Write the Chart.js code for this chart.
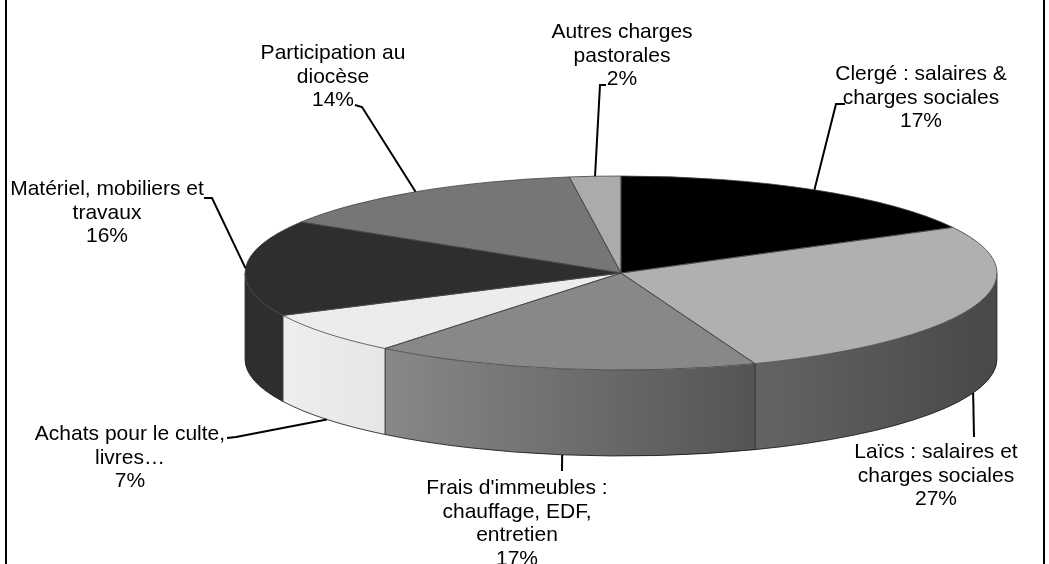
<!DOCTYPE html>
<html>
<head>
<meta charset="utf-8">
<title>Charges</title>
<script src="https://cdn.jsdelivr.net/npm/chart.js@4"></script>
<style>
html, body { margin: 0; padding: 0; background: #fff; overflow: hidden; }
canvas { display: block; }
</style>
</head>
<body>
<canvas id="myChart" width="1049" height="564"></canvas>
<script>
const categories = [
  'Clergé : salaires & charges sociales',
  'Laïcs : salaires et charges sociales',
  "Frais d'immeubles : chauffage, EDF, entretien",
  'Achats pour le culte, livres…',
  'Matériel, mobiliers et travaux',
  'Participation au diocèse',
  'Autres charges pastorales'
];
// the labels show them rounded
const percents = [17.2, 27, 16.6, 7, 16, 14, 2.2];
const labelLines = [
  ['Clergé : salaires &', 'charges sociales'],
  ['Laïcs : salaires et', 'charges sociales'],
  ["Frais d'immeubles :", 'chauffage, EDF,', 'entretien'],
  ['Achats pour le culte,', 'livres…'],
  ['Matériel, mobiliers et', 'travaux'],
  ['Participation au', 'diocèse'],
  ['Autres charges', 'pastorales']
];
const topColors = ['#000000', '#b0b0b0', '#888888', '#ececec', '#2e2e2e', '#767676', '#ababab'];
const wallFrom = ['#000000', '#646464', '#888888', '#eeeeee', '#2e2e2e', '#767676', '#ababab'];
const wallTo = ['#000000', '#484848', '#545454', '#e6e6e6', '#2e2e2e', '#767676', '#ababab'];

// text centre + first baseline, then the leader bends (the slice end comes from the arc)
const labelPos = [
  { x: 921, y: 80, bend: [[836, 104], [845, 104]] },
  { x: 936, y: 458, bend: [[974, 437]] },
  { x: 517, y: 494, bend: [[562, 471]] },
  { x: 130, y: 440, bend: [[236, 437], [227, 438]] },
  { x: 107, y: 195, bend: [[212, 198], [204, 198]] },
  { x: 333, y: 59, bend: [[362, 107], [355, 105]] },
  { x: 622, y: 38, bend: [[600, 85], [606, 85]] }
];

const squashX = 376 / 240;
const squashY = 97 / 240;
const depth = 86;
const lineH = 23.5;

function wallPart(ctx, arc, i) {
  const a = Math.max(arc.startAngle, 0);
  const b = Math.min(arc.endAngle, Math.PI);
  if (b <= a) return;
  const rx = arc.outerRadius * squashX;
  const ry = arc.outerRadius * squashY;
  const x1 = arc.x + rx * Math.cos(b);
  const x2 = arc.x + rx * Math.cos(a);
  const grad = ctx.createLinearGradient(x1, 0, x2, 0);
  grad.addColorStop(0, wallFrom[i]);
  grad.addColorStop(1, wallTo[i]);
  ctx.beginPath();
  ctx.ellipse(arc.x, arc.y, rx, ry, 0, a, b);
  ctx.ellipse(arc.x, arc.y + depth, rx, ry, 0, b, a, true);
  ctx.closePath();
  ctx.fillStyle = grad;
  ctx.fill();
  ctx.lineWidth = 0.8;
  ctx.strokeStyle = '#333';
  ctx.beginPath();
  ctx.moveTo(x2, arc.y + ry * Math.sin(a));
  ctx.lineTo(x2, arc.y + ry * Math.sin(a) + depth);
  ctx.moveTo(x1, arc.y + ry * Math.sin(b));
  ctx.lineTo(x1, arc.y + ry * Math.sin(b) + depth);
  ctx.stroke();
  ctx.beginPath();
  ctx.ellipse(arc.x, arc.y + depth, rx, ry, 0, a, b);
  ctx.strokeStyle = '#111';
  ctx.stroke();
}

const pie3d = {
  id: 'pie3d',
  beforeDatasetsDraw(chart) {
    const ctx = chart.ctx;
    const arcs = chart.getDatasetMeta(0).data;
    ctx.save();
    arcs.forEach((arc, i) => wallPart(ctx, arc, i));
    ctx.restore();
    // the flat top: same arcs, squashed into an ellipse
    const c = arcs[0];
    ctx.save();
    ctx.translate(c.x, c.y);
    ctx.scale(squashX, squashY);
    ctx.translate(-c.x, -c.y);
  },
  afterDatasetsDraw(chart) {
    const ctx = chart.ctx;
    ctx.restore();
    const arcs = chart.getDatasetMeta(0).data;

    arcs.forEach((arc) => {
      const rx = arc.outerRadius * squashX;
      const ry = arc.outerRadius * squashY;
      ctx.beginPath();
      ctx.moveTo(arc.x, arc.y);
      ctx.lineTo(arc.x + rx * Math.cos(arc.startAngle), arc.y + ry * Math.sin(arc.startAngle));
      ctx.ellipse(arc.x, arc.y, rx, ry, 0, arc.startAngle, arc.endAngle);
      ctx.closePath();
      ctx.lineWidth = 0.8;
      ctx.strokeStyle = '#444';
      ctx.stroke();
    });

    // leaders and labels
    arcs.forEach((arc, i) => {
      const rx = arc.outerRadius * squashX;
      const ry = arc.outerRadius * squashY;
      const mid = (arc.startAngle + arc.endAngle) / 2;
      const front = Math.sin(mid) > 0;
      const p = labelPos[i];
      ctx.beginPath();
      ctx.moveTo(arc.x + rx * Math.cos(mid), arc.y + ry * Math.sin(mid) + (front ? depth : 0));
      p.bend.forEach(b => ctx.lineTo(b[0], b[1]));
      ctx.lineWidth = 2;
      ctx.strokeStyle = '#000';
      ctx.stroke();

      ctx.fillStyle = '#000';
      ctx.font = '21px "Liberation Sans"';
      ctx.textAlign = 'center';
      ctx.textBaseline = 'alphabetic';
      const lines = labelLines[i].concat(Math.round(percents[i]) + '%');
      lines.forEach((t, k) => ctx.fillText(t, p.x, p.y + k * lineH));
    });

    // frame of the pasted picture
    ctx.fillStyle = '#000';
    ctx.fillRect(5, 0, 2, 564);
    ctx.fillRect(1043, 0, 2, 564);
  }
};

new Chart(document.getElementById('myChart').getContext('2d'), {
  type: 'pie',
  data: {
    labels: categories,
    datasets: [{
      data: percents,
      backgroundColor: topColors,
      borderWidth: 0,
      clip: false
    }]
  },
  options: {
    responsive: false,
    animation: false,
    layout: { padding: { left: 381, right: 188, top: 33, bottom: 51 } },
    plugins: { legend: { display: false }, tooltip: { enabled: false } }
  },
  plugins: [pie3d]
});
</script>
</body>
</html>
